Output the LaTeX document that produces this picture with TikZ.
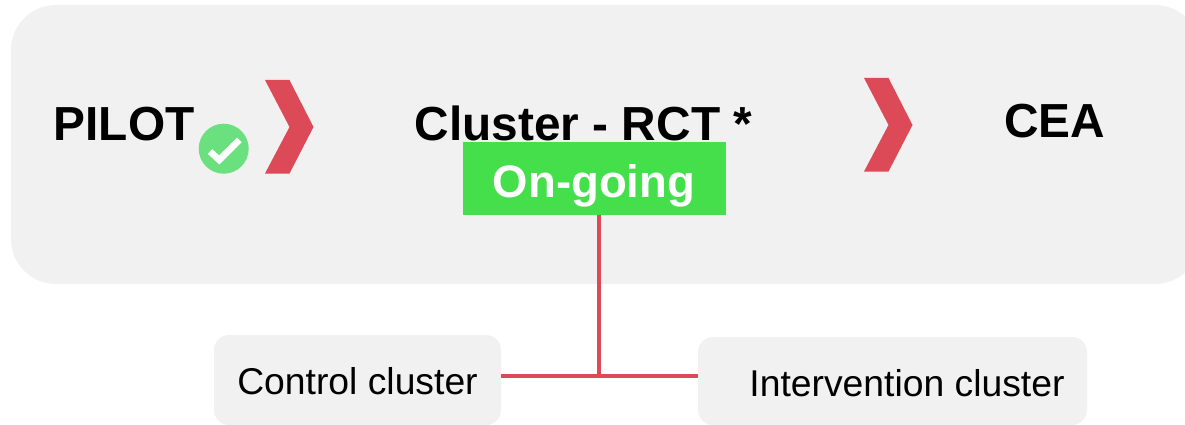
\documentclass[tikz,border=0pt]{standalone}
\usepackage{fontspec}
\setmainfont{Liberation Sans}
\usetikzlibrary{positioning, shapes, arrows.meta, calc}
\definecolor{panelgrey}{HTML}{F1F1F1}
\definecolor{linkred}{HTML}{DC4A58}
\definecolor{goinggreen}{HTML}{44DF4A}
\definecolor{checkgreen}{HTML}{6BE07E}
\tikzset{
  panel/.style={rectangle, rounded corners=#1, fill=panelgrey, inner sep=0pt},
  stage/.style={anchor=base, inner sep=0pt, font=\bfseries\fontsize{47.8}{47.8}\selectfont},
  armtext/.style={anchor=base, inner sep=0pt, font=\fontsize{37.3}{37.3}\selectfont},
  link/.style={draw=linkred, line width=4pt},
  chevron/.pic={\fill[linkred] (0,0) -- (24.5,0) -- (48.5,47) -- (24.5,93.5) -- (0,93.5) -- (24.5,47) -- cycle;}
}
\begin{document}
\begin{tikzpicture}[x=1pt, y=-1pt]
  \useasboundingbox (0,0) rectangle (1185,425);
  % Nodes
  \node[panel=45pt, minimum width=1189pt, minimum height=279pt] (main) at (605.5,144.5) {};
  \node[panel=15pt, minimum width=287pt, minimum height=90pt] (control) at (357.5,380) {};
  \node[panel=15pt, minimum width=389pt, minimum height=88pt] (intervention) at (892.5,381) {};
  \node[armtext] (controltext) at (357.5,394) {Control cluster};
  \node[armtext] (interventiontext) at (907,396) {Intervention cluster};
  \node[stage] (pilot) at (124,140) {PILOT};
  \node[stage] (rct) at (583.5,140) {Cluster - RCT *};
  \node[stage] (cea) at (1054.5,138) {CEA};
  \node[rectangle, fill=goinggreen, minimum width=263pt, minimum height=73pt, inner sep=0pt] (ongoing) at (594.5,178.5) {};
  \node[anchor=base, inner sep=0pt, text=white, font=\bfseries\fontsize{45.5}{45.5}\selectfont] (ongoingtext) at (594,197) {On-going};
  \node[circle, fill=checkgreen, minimum size=50pt, inner sep=0pt] (done) at (223.7,148.7) {};

  % Chevrons
  \pic at (265,80) {chevron};
  \pic at (864,78) {chevron};
  \draw[white, line width=6.5pt] (210,151.5) -- (219.3,160) -- (239.3,140);

  % Arrows
  \coordinate (junction) at (ongoing.south |- 0,376);
  \draw[link] (control.east |- junction) -- (intervention.west |- junction);
  \draw[link] (ongoing.south -| 599,0) -- (junction -| 599,0);
\end{tikzpicture}
\end{document}
